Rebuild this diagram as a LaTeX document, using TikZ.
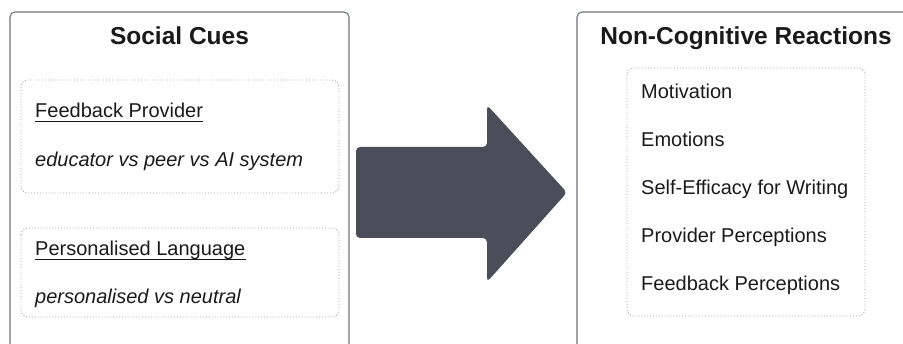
\documentclass[tikz,border=0pt]{standalone}
\usepackage{fontspec}
\setmainfont{Liberation Sans}
\definecolor{boxline}{HTML}{6E727C}
\definecolor{dotline}{HTML}{9A9DA4}
\definecolor{arrowfill}{HTML}{4A4E58}
\definecolor{txt}{HTML}{1A1A1A}
\tikzset{
  panel/.style={draw=boxline, line width=1.1pt, rounded corners=5pt},
  dotbox/.style={draw=dotline, dotted, line width=0.9pt, rounded corners=7pt},
  ttl/.style={font=\fontsize{24.5}{28}\selectfont\bfseries, text=txt, inner sep=0pt, anchor=base},
  itm/.style={font=\fontsize{20}{24}\selectfont, text=txt, inner sep=0pt, anchor=base west},
  ulne/.style={draw=txt, line width=1.3pt},
}
\begin{document}
\begin{tikzpicture}[x=1pt,y=-1pt]
\useasboundingbox (0,0) rectangle (903,344);
\clip (0,0) rectangle (903,344);
% panels
\draw[panel] (10,12) rectangle (349,360);
\draw[panel] (577,12) rectangle (915,360);
% titles
\node[ttl] (t1) at (179.5,45) {Social Cues};
\node[ttl] (t2) at (746,45) {Non-Cognitive Reactions};
% left dotted boxes
\draw[dotbox] (21,80) rectangle (339,193);
\draw[dotbox] (21,228) rectangle (339,317);
\node[itm] (fp) at (35,118) {Feedback Provider};
\node[itm, font=\fontsize{20}{24}\selectfont\itshape] (fpv) at (35,167) {educator vs peer vs AI system};
\node[itm] (pl) at (35,256) {Personalised Language};
\node[itm, font=\fontsize{20}{24}\selectfont\itshape] (plv) at (35,304) {personalised vs neutral};
\draw[ulne] ([yshift=-3.2pt]fp.base west) -- ([yshift=-3.2pt]fp.base east);
\draw[ulne] ([yshift=-3.2pt]pl.base west) -- ([yshift=-3.2pt]pl.base east);
% arrow
\fill[arrowfill, rounded corners=4pt] (356,147) -- (487,147) -- (487,105) -- (567,192.5) -- (487,282) -- (487,238) -- (356,238) -- cycle;
% right dotted box
\draw[dotbox] (627,68) rectangle (865,316);
\node[itm] (r1) at (641,99) {Motivation};
\node[itm] (r2) at (641,147) {Emotions};
\node[itm] (r3) at (641,195) {Self-Efficacy for Writing};
\node[itm] (r4) at (641,243) {Provider Perceptions};
\node[itm] (r5) at (641,291) {Feedback Perceptions};
\end{tikzpicture}
\end{document}
